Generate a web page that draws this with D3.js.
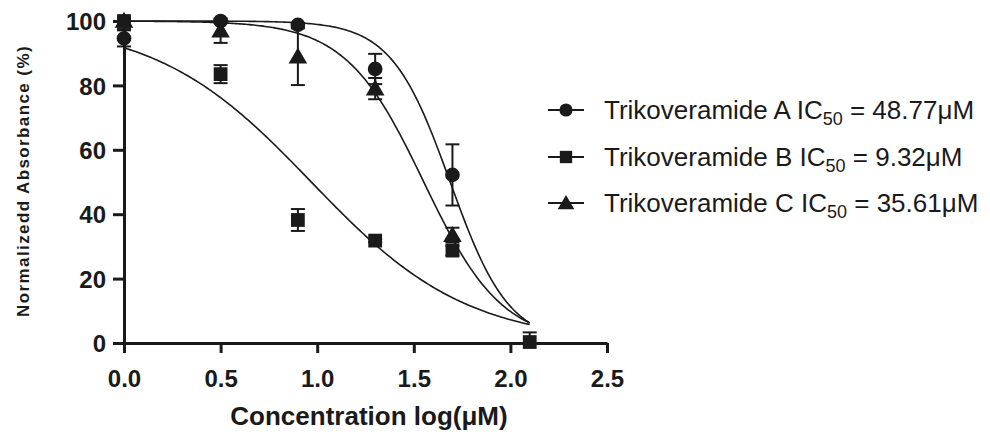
<!DOCTYPE html>
<html>
<head>
<meta charset="utf-8">
<script src="https://cdn.jsdelivr.net/npm/d3@7"></script>
<style>
  body { margin: 0; background: #fff; }
  text { font-family: "Liberation Sans", Arial, sans-serif; fill: #1a1a1a; }
</style>
</head>
<body>
<svg id="chart" width="990" height="434"></svg>
<script>
// log concentration values
const doses = [0.0, 0.5, 0.9, 1.3, 1.7, 2.1];
const seriesNames = ['Trikoveramide A', 'Trikoveramide B', 'Trikoveramide C'];
const ic50Labels = ['48.77', '9.32', '35.61'];
const meanA = [94.6, 100, 98.8, 85.1, 52.2, null];
const errA  = [2.5, 0.5, 0.5, 4.7, 9.5, null];
const meanB = [100, 83.5, 38.2, 31.8, 28.7, 0.3];
const errB  = [0.5, 2.8, 3.4, 0.5, 1.5, 3.0];
const meanC = [100, 97, 88.9, 79, 33.5, null];
const errC  = [2.5, 3.8, 8.8, 3.3, 2.3, null];
// fitted curve parameters (top, bottom, logIC50, hill slope)
const fitTop = [100, 100, 100];
const fitBottom = [0, 0, 0];
const fitLogIC50 = [Math.log10(48.77), Math.log10(9.32), Math.log10(35.61)];
const fitHill = [2.86, 1.076, 2.15];
const xTicks = [0.0, 0.5, 1.0, 1.5, 2.0, 2.5];
const yTicks = [0, 20, 40, 60, 80, 100];

const svg = d3.select('#chart');
const ink = '#1a1a1a';

const x = d3.scaleLinear().domain([0, 2.5]).range([124, 607]);
const y = d3.scaleLinear().domain([0, 100]).range([343, 21]);

// axes
const xAxis = svg.append('g')
    .attr('transform', `translate(0, ${y(0)})`)
    .call(d3.axisBottom(x).tickValues(xTicks).tickFormat(d3.format('.1f')).tickSize(10).tickSizeOuter(0));
const yAxis = svg.append('g')
    .attr('transform', `translate(${x(0)}, 0)`)
    .call(d3.axisLeft(y).tickValues(yTicks).tickSize(11).tickSizeOuter(0));

[xAxis, yAxis].forEach(g => {
    g.select('.domain').attr('stroke', ink).attr('stroke-width', 3);
    g.selectAll('.tick line').attr('stroke', ink).attr('stroke-width', 3);
    g.selectAll('.tick text')
        .style('font-size', '24px')
        .style('font-weight', 'bold')
        .style('font-family', '"Liberation Sans", Arial, sans-serif')
        .attr('fill', ink);
});
xAxis.selectAll('.tick text').attr('y', 44).attr('dy', 0);
yAxis.selectAll('.tick text').attr('x', -18).attr('dy', '0.36em');

// axis titles
svg.append('text')
    .attr('x', 369)
    .attr('y', 425)
    .style('text-anchor', 'middle')
    .style('font-size', '26px')
    .style('font-weight', 'bold')
    .text('Concentration log(μM)');

svg.append('text')
    .attr('transform', 'translate(29, 181) rotate(-90)')
    .style('text-anchor', 'middle')
    .style('font-size', '17px')
    .style('font-weight', 'bold')
    .style('letter-spacing', '1.4px')
    .text('Normalizedd Absorbance (%)');

// fitted curves
const curveXs = d3.range(0, 2.1001, 0.01);
const line = d3.line().x(d => x(d[0])).y(d => y(d[1]));
seriesNames.forEach((name, i) => {
    const pts = curveXs.map(v => [v, fitBottom[i] + (fitTop[i] - fitBottom[i]) / (1 + Math.pow(10, (v - fitLogIC50[i]) * fitHill[i]))]);
    svg.append('path')
        .attr('d', line(pts))
        .attr('fill', 'none')
        .attr('stroke', ink)
        .attr('stroke-width', 1.6);
});

// markers
const symbolTypes = [d3.symbolCircle, d3.symbolSquare, d3.symbolTriangle];
const symbolSizes = [170, 190, 150];
const means = [meanA, meanB, meanC];
const errs = [errA, errB, errC];

means.forEach((m, i) => {
    const data = doses.map((d, j) => ({ x: d, y: m[j], e: errs[i][j] })).filter(d => d.y !== null);
    const g = svg.append('g');
    // error bars
    data.forEach(d => {
        const top = y(Math.min(d.y + d.e, 101));
        const bot = y(Math.max(d.y - d.e, 0));
        g.append('line').attr('x1', x(d.x)).attr('x2', x(d.x)).attr('y1', top).attr('y2', bot)
            .attr('stroke', ink).attr('stroke-width', 2);
        [top, bot].forEach(yy => {
            g.append('line').attr('x1', x(d.x) - 7).attr('x2', x(d.x) + 7).attr('y1', yy).attr('y2', yy)
                .attr('stroke', ink).attr('stroke-width', 2);
        });
    });
    g.selectAll('path')
        .data(data)
        .enter()
        .append('path')
        .attr('d', d3.symbol().type(symbolTypes[i]).size(symbolSizes[i]))
        .attr('transform', d => `translate(${x(d.x)}, ${y(d.y) + (i === 2 ? 1.5 : 0)})`)
        .attr('fill', ink);
});

// legend
const legendRows = [110, 157, 203];
seriesNames.forEach((name, i) => {
    const lg = svg.append('g').attr('transform', `translate(0, ${legendRows[i]})`);
    lg.append('line').attr('x1', 548).attr('x2', 584).attr('y1', 0).attr('y2', 0)
        .attr('stroke', ink).attr('stroke-width', 2);
    lg.append('path')
        .attr('d', d3.symbol().type(symbolTypes[i]).size(symbolSizes[i] * 0.8))
        .attr('transform', `translate(566, ${i === 2 ? 1.5 : 0})`)
        .attr('fill', ink);
    const t = lg.append('text')
        .attr('x', 604)
        .attr('y', 9)
        .style('font-size', '26px');
    t.append('tspan').text(name + ' IC');
    t.append('tspan').attr('dy', 6).style('font-size', '18px').text('50');
    t.append('tspan').attr('dy', -6).text(' = ' + ic50Labels[i] + 'μM');
});
</script>
</body>
</html>
